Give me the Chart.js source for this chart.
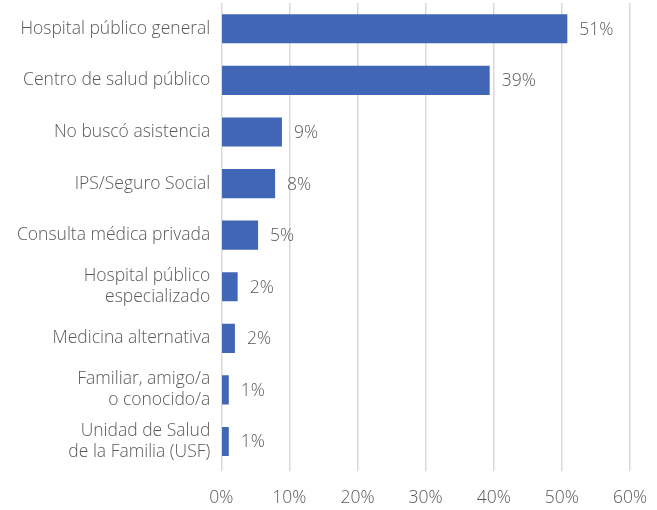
<!DOCTYPE html>
<html>
<head>
<meta charset="utf-8">
<script src="https://cdn.jsdelivr.net/npm/chart.js@4"></script>
<style>
  html, body { margin: 0; padding: 0; background: #ffffff; }
  canvas { display: block; }
</style>
</head>
<body>
<canvas id="chart" width="657" height="510"></canvas>
<script>
// Lugar donde se buscó atención (porcentaje de personas)
const categories = [
  'Hospital público general',
  'Centro de salud público',
  'No buscó asistencia',
  'IPS/Seguro Social',
  'Consulta médica privada',
  ['Hospital público', 'especializado'],
  'Medicina alternativa',
  ['Familiar, amigo/a', 'o conocido/a'],
  ['Unidad de Salud', 'de la Familia (USF)']
];
const shares = [50.8, 39.4, 8.9, 7.9, 5.4, 2.4, 2.0, 1.1, 1.1];
const xTicks = [0, 10, 20, 30, 40, 50, 60];

const FONT = { family: '"Open Sans", Lato, sans-serif', size: 17.5, weight: 300, lineHeight: 1.2 };
const TEXT = '#595959';
const GRID = '#d9d9d9';

// Writes the rounded percentage just past the end of each bar
const valueLabels = {
  id: 'valueLabels',
  afterDatasetsDraw(chart) {
    const { ctx } = chart;
    const meta = chart.getDatasetMeta(0);
    ctx.save();
    ctx.font = `${FONT.weight} ${FONT.size}px ${FONT.family}`;
    ctx.fillStyle = TEXT;
    ctx.textAlign = 'left';
    ctx.textBaseline = 'middle';
    meta.data.forEach((bar, i) => {
      const v = chart.data.datasets[0].data[i];
      ctx.fillText(Math.round(v) + '%', bar.x + 12, bar.y + 1);
    });
    ctx.restore();
  }
};

new Chart(document.getElementById('chart'), {
  type: 'bar',
  data: {
    labels: categories,
    datasets: [{
      data: shares,
      backgroundColor: '#4166b6',
      borderWidth: 0,
      barPercentage: 0.565,
      categoryPercentage: 1
    }]
  },
  options: {
    indexAxis: 'y',
    responsive: false,
    devicePixelRatio: 1,
    animation: false,
    layout: { padding: { top: 3, right: 27, left: 0, bottom: 0 } },
    plugins: { legend: { display: false }, tooltip: { enabled: false } },
    scales: {
      x: {
        min: 0,
        max: 60,
        afterBuildTicks(scale) {
          scale.ticks = xTicks.map(v => ({ value: v }));
        },
        afterFit(scale) {
          scale.height = 42.7;
          scale.paddingLeft = 0;
          scale.paddingRight = 0;
        },
        grid: {
          color: GRID,
          lineWidth: 1.5,
          drawTicks: true,
          tickLength: 4,
          tickColor: GRID
        },
        border: { display: false },
        ticks: {
          padding: 16,
          color: TEXT,
          font: FONT,
          callback: v => v + '%'
        }
      },
      y: {
        afterFit(scale) {
          scale.width = 221.3;
          scale.paddingTop = 0;
          scale.paddingBottom = 0;
        },
        grid: { display: false, drawTicks: false },
        border: { display: false },
        ticks: {
          padding: 11,
          color: TEXT,
          font: FONT
        }
      }
    }
  },
  plugins: [valueLabels]
});
</script>
</body>
</html>
